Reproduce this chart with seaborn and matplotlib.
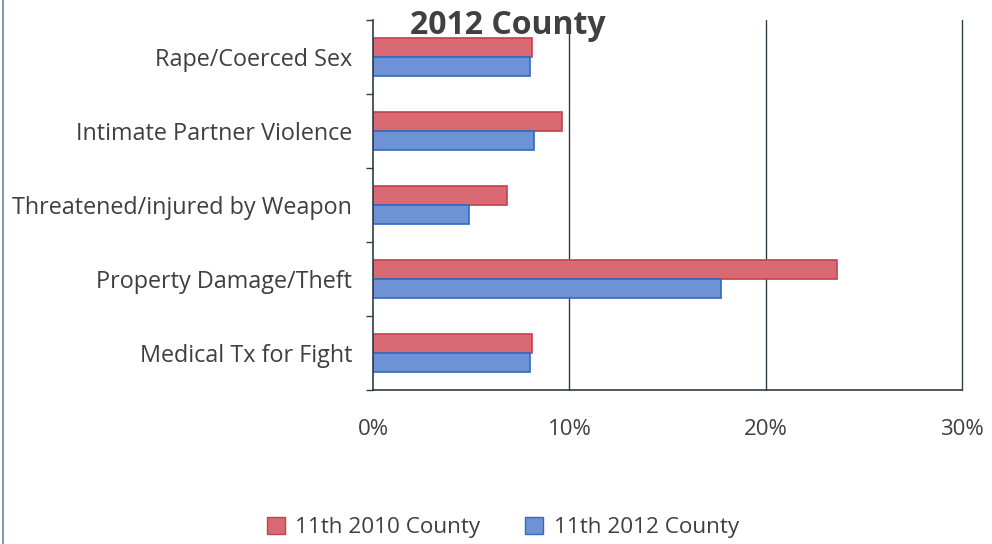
import matplotlib
matplotlib.use("Agg")
import matplotlib.pyplot as plt
import matplotlib.ticker as mticker
from matplotlib.lines import Line2D
from matplotlib.patches import Patch
import seaborn as sns
import pandas as pd

categories = ["Rape/Coerced Sex", "Intimate Partner Violence",
              "Threatened/injured by Weapon", "Property Damage/Theft",
              "Medical Tx for Fight"]
county_2010 = [8.1, 9.6, 6.8, 23.6, 8.1]
county_2012 = [8.0, 8.2, 4.9, 17.7, 8.0]
series_names = ["11th 2010 County", "11th 2012 County"]
x_ticks = [0, 10, 20, 30]

df = pd.DataFrame({
    "category": categories * 2,
    "value": county_2010 + county_2012,
    "series": [series_names[0]] * len(categories) + [series_names[1]] * len(categories),
})

sns.set_theme(style="white")
plt.rcParams["font.family"] = ["Open Sans", "DejaVu Sans"]

text_color = "#3f3f3f"
axis_color = "#2e3d4a"
fills = ["#d96a73", "#6d92d6"]
edges = ["#c8404c", "#2e6bc2"]

fig = plt.figure(figsize=(9.92, 5.44), dpi=100)
ax = fig.add_axes([0.376, 0.283, 0.594, 0.680])

sns.barplot(data=df, y="category", x="value", hue="series", order=categories,
            hue_order=series_names, palette=fills, orient="h", width=0.52,
            ax=ax, legend=False, saturation=1)

for container, ec in zip(ax.containers, edges):
    for bar in container:
        bar.set_edgecolor(ec)
        bar.set_linewidth(1.2)

ax.set_xlim(0, 30)
ax.set_ylim(len(categories) - 0.5, -0.5)
ax.set_xticks(x_ticks)
ax.xaxis.set_major_formatter(mticker.FuncFormatter(lambda v, p: f"{v:.0f}%"))
ax.set_xlabel("")
ax.set_ylabel("")

# vertical gridlines
for v in x_ticks[1:]:
    ax.axvline(v, color=axis_color, lw=1.0, zorder=0, clip_on=False)

for side in ["top", "right"]:
    ax.spines[side].set_visible(False)
for side in ["left", "bottom"]:
    ax.spines[side].set_color(axis_color)
    ax.spines[side].set_linewidth(1.2)

ax.tick_params(axis="x", which="major", length=5, width=1, color=axis_color,
               direction="out", pad=16, labelsize=16, labelcolor=text_color)
ax.tick_params(axis="y", which="major", length=0, pad=15, labelsize=16.8,
               labelcolor=text_color)
ax.set_yticks(range(len(categories)))
ax.set_yticklabels(categories)
ax.yaxis.set_minor_locator(mticker.FixedLocator([i - 0.5 for i in range(len(categories) + 1)]))
ax.tick_params(axis="y", which="minor", length=5, width=1, color=axis_color, left=True)

fig.text(0.512, 0.953, "2012 County", ha="center", va="center",
         fontsize=23, fontweight="bold", color="#404040")

handles = [Patch(facecolor=f, edgecolor=e, linewidth=1) for f, e in zip(fills, edges)]
fig.legend(handles, series_names, loc="center", bbox_to_anchor=(0.507, 0.03),
           ncol=2, frameon=False, fontsize=16.2, labelcolor=text_color,
           handlelength=0.8, handleheight=0.8, handletextpad=0.45, columnspacing=2.0)

# page border on the left
fig.add_artist(Line2D([0.003, 0.003], [0, 1], transform=fig.transFigure,
                      color="#6a85a8", lw=1.2))

fig.savefig("out.png", dpi=100, facecolor="white")
